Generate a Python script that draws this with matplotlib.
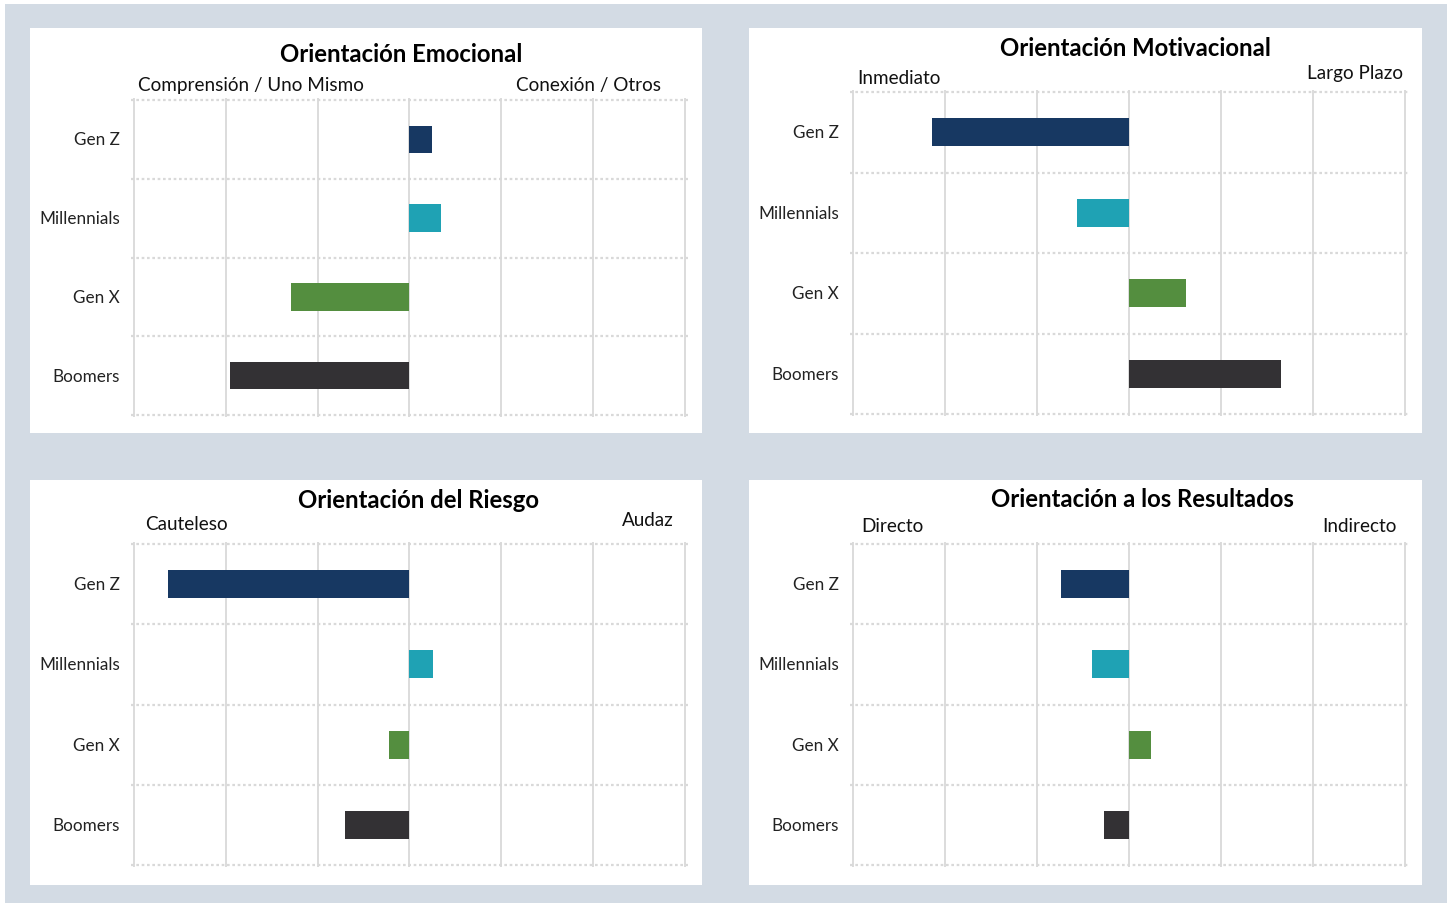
import matplotlib.pyplot as plt
from matplotlib.patches import Rectangle

plt.rcParams['font.family'] = ['Lato', 'DejaVu Sans']

W, H = 1447, 904

generations = ["Gen Z", "Millennials", "Gen X", "Boomers"]
colors = ["#173862", "#1fa2b4", "#548e3f", "#333134"]

titles = ["Orientación Emocional", "Orientación Motivacional",
          "Orientación del Riesgo", "Orientación a los Resultados"]
left_labels = ["Comprensión / Uno Mismo", "Inmediato", "Cauteleso", "Directo"]
right_labels = ["Conexión / Otros", "Largo Plazo", "Audaz", "Indirecto"]

emocional = [0.24, 0.34, -1.29, -1.96]
motivacional = [-2.14, -0.57, 0.62, 1.65]
riesgo = [-2.63, 0.26, -0.22, -0.70]
resultados = [-0.74, -0.40, 0.24, -0.27]
values = [emocional, motivacional, riesgo, resultados]

# layout in pixels
panels = [(30, 29, 702, 434), (749, 29, 1422, 434),
          (30, 481, 702, 886), (749, 481, 1422, 886)]
axes_px = [(134, 101, 685, 416), (853, 93, 1405, 415),
           (134, 545, 685, 866), (853, 545, 1405, 866)]
title_pos = [(401, 55), (1135, 49), (418, 501), (1142, 500)]
left_pos = [(138, 85), (857, 78), (145, 524), (861, 527)]
right_pos = [(661, 85), (1403, 74), (674, 521), (1397, 527)]


def fx(x):
    return x / W


def fy(y):
    return 1 - y / H


fig = plt.figure(figsize=(W / 100, H / 100), dpi=100)
fig.patch.set_facecolor("#d3dbe4")
fig.patches.append(Rectangle((0, 0), fx(5), 1, transform=fig.transFigure,
                             facecolor="white", edgecolor="none", zorder=-2))
fig.patches.append(Rectangle((0, fy(5)), 1, 5 / H, transform=fig.transFigure,
                             facecolor="white", edgecolor="none", zorder=-2))

for i in range(4):
    x0, y0, x1, y1 = panels[i]
    fig.patches.append(Rectangle((fx(x0), fy(y1)), fx(x1 - x0), (y1 - y0) / H,
                                 transform=fig.transFigure, facecolor="white",
                                 edgecolor="none", zorder=-2))

    ax0, ay0, ax1, ay1 = axes_px[i]
    pad_x = 3
    pad_y = 2
    ax = fig.add_axes([fx(ax0 - pad_x), fy(ay1 + pad_y),
                       (ax1 - ax0 + 2 * pad_x) / W, (ay1 - ay0 + 2 * pad_y) / H])
    ax.set_facecolor("none")
    unit_x = (ax1 - ax0) / 6
    unit_y = (ay1 - ay0) / 4
    ax.set_xlim(-3 - pad_x / unit_x, 3 + pad_x / unit_x)
    ax.set_ylim(3.5 + pad_y / unit_y, -0.5 - pad_y / unit_y)

    ypos = list(range(len(generations)))
    ax.barh(ypos, values[i], height=0.35, color=colors, zorder=3)

    ax.set_xticks(range(-3, 4))
    ax.set_yticks([-0.5, 0.5, 1.5, 2.5, 3.5])
    ax.grid(axis="x", color="#d9d9d9", linewidth=1.3, linestyle="-", zorder=0)
    ax.grid(axis="y", color="#d9d9d9", linewidth=1.6, linestyle=(0, (1.2, 1.2)), zorder=0)
    ax.set_axisbelow(True)
    ax.tick_params(length=0, labelbottom=False, labelleft=False)
    for s in ax.spines.values():
        s.set_visible(False)

    for j, g in enumerate(generations):
        yc = ay0 + unit_y * (j + 0.5)
        fig.text(fx(ax0 - 14), fy(yc), g, ha="right", va="center",
                 fontsize=12.3, color="#222222")

    tx, ty = title_pos[i]
    fig.text(fx(tx), fy(ty), titles[i], ha="center", va="center",
             fontsize=17.2, fontweight="bold", color="black")
    lx, ly = left_pos[i]
    fig.text(fx(lx), fy(ly), left_labels[i], ha="left", va="center",
             fontsize=13.6, color="#111111")
    rx, ry = right_pos[i]
    fig.text(fx(rx), fy(ry), right_labels[i], ha="right", va="center",
             fontsize=13.6, color="#111111")

plt.savefig("out.png", dpi=100, facecolor=fig.get_facecolor())
